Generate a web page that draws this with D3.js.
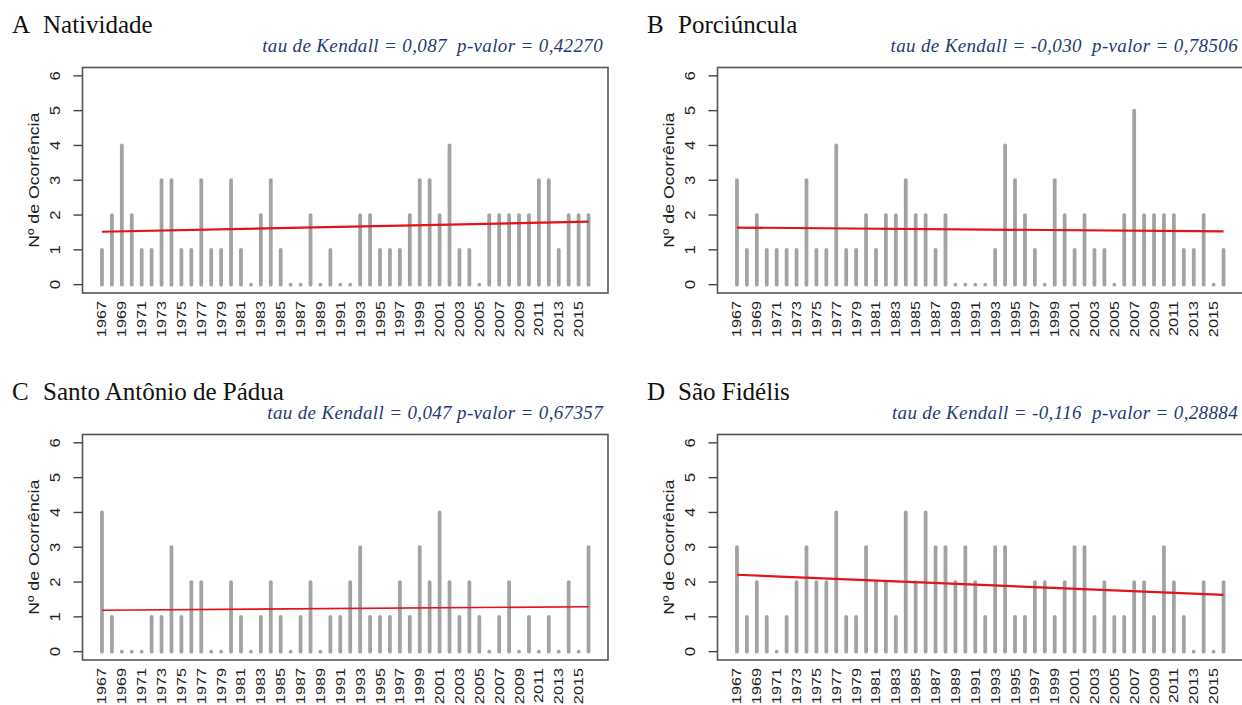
<!DOCTYPE html>
<html>
<head>
<meta charset="utf-8">
<script src="https://cdn.jsdelivr.net/npm/d3@7"></script>
<style>
  body { margin: 0; background: #fff; }
  svg { display: block; }
  text { white-space: pre; }
</style>
</head>
<body>
<svg id="chart" width="1242" height="705"></svg>
<script>
// anos 1967-2016
const years = d3.range(1967, 2017);
const yTicks = [0, 1, 2, 3, 4, 5, 6];
const xTickYears = d3.range(1967, 2016, 2);

const letters = ["A", "B", "C", "D"];
const stations = ["Natividade", "Porciúncula", "Santo Antônio de Pádua", "São Fidélis"];
const tauLabels = [
  "tau de Kendall = 0,087  p-valor = 0,42270",
  "tau de Kendall = -0,030  p-valor = 0,78506",
  "tau de Kendall = 0,047 p-valor = 0,67357",
  "tau de Kendall = -0,116  p-valor = 0,28884"
];

const natividade = [1,2,4,2,1,1,3,3,1,1,3,1,1,3,1,0,2,3,1,0,0,2,0,1,0,0,2,2,1,1,1,2,3,3,2,4,1,1,0,2,2,2,2,2,3,3,1,2,2,2];
const porciuncula = [3,1,2,1,1,1,1,3,1,1,4,1,1,2,1,2,2,3,2,2,1,2,0,0,0,0,1,4,3,2,1,0,3,2,1,2,1,1,0,2,5,2,2,2,2,1,1,2,0,1];
const santoAntonio = [4,1,0,0,0,1,1,3,1,2,2,0,0,2,1,0,1,2,1,0,1,2,0,1,1,2,3,1,1,1,2,1,3,2,4,2,1,2,1,0,1,2,0,1,0,1,0,2,0,3];
const saoFidelis = [3,1,2,1,0,1,2,3,2,2,4,1,1,3,2,2,1,4,2,4,3,3,2,3,2,1,3,3,1,1,2,2,1,2,3,3,1,2,1,1,2,2,1,3,2,1,0,2,0,2];
const seriesList = [natividade, porciuncula, santoAntonio, saoFidelis];

// linha de tendencia: valor em 1967 e em 2016
const trendStart = [1.52, 1.64, 1.19, 2.21];
const trendEnd = [1.81, 1.53, 1.29, 1.63];

const svg = d3.select("#chart");
const panelOffsets = [[0, 0], [635, 0], [0, 367], [635, 367]];
const box = { left: 82.5, right: 608, top: 67.5, bottom: 293 };

// margens tipo R (4%)
const x = d3.scaleLinear().domain([1967 - 1.96, 2016 + 1.96]).range([box.left, box.right]);
const y = d3.scaleLinear().domain([-0.24, 6.24]).range([box.bottom, box.top]);

function drawPanel(i) {
  const g = svg.append("g")
    .attr("transform", `translate(${panelOffsets[i][0]},${panelOffsets[i][1]})`);
  const data = years.map((yr, k) => ({ year: yr, value: seriesList[i][k] }));

  g.append("text")
    .attr("x", 12).attr("y", 33)
    .attr("font-family", "Liberation Serif, Times New Roman, serif")
    .attr("font-size", 25).attr("fill", "#111")
    .text(letters[i]);
  g.append("text")
    .attr("x", 43).attr("y", 33)
    .attr("font-family", "Liberation Serif, Times New Roman, serif")
    .attr("font-size", 25).attr("fill", "#111")
    .text(stations[i]);

  g.append("text")
    .attr("x", 603).attr("y", 52)
    .attr("text-anchor", "end")
    .attr("font-family", "Liberation Serif, Times New Roman, serif")
    .attr("font-style", "italic")
    .attr("font-size", 19)
    .attr("letter-spacing", 0.35)
    .attr("fill", "#1f3b73")
    .text(tauLabels[i]);

  // barras
  g.selectAll("line.bar")
    .data(data)
    .join("line")
    .attr("class", "bar")
    .attr("x1", d => x(d.year)).attr("x2", d => x(d.year))
    .attr("y1", y(0)).attr("y2", d => y(d.value))
    .attr("stroke", "#a3a3a3")
    .attr("stroke-width", 3.8)
    .attr("stroke-linecap", "round");

  // tendencia
  g.append("line")
    .attr("x1", x(1967)).attr("x2", x(2016))
    .attr("y1", y(trendStart[i])).attr("y2", y(trendEnd[i]))
    .attr("stroke", "#e3121b")
    .attr("stroke-width", i === 2 ? 1.6 : 2.2);

  g.append("rect")
    .attr("x", box.left).attr("y", box.top)
    .attr("width", box.right - box.left).attr("height", box.bottom - box.top)
    .attr("fill", "none").attr("stroke", "#555").attr("stroke-width", 1.6);

  // eixo y
  const yAxis = g.append("g");
  yAxis.selectAll("line")
    .data(yTicks)
    .join("line")
    .attr("x1", box.left - 9).attr("x2", box.left)
    .attr("y1", d => y(d)).attr("y2", d => y(d))
    .attr("stroke", "#444").attr("stroke-width", 1.4);
  yAxis.selectAll("text")
    .data(yTicks)
    .join("text")
    .attr("transform", d => `translate(${box.left - 23},${y(d)}) rotate(-90) scale(1.2,1)`)
    .attr("text-anchor", "middle")
    .attr("font-family", "Liberation Sans, Arial, sans-serif")
    .attr("font-size", 14).attr("fill", "#222")
    .text(d => d);

  g.append("text")
    .attr("transform", `translate(39,${(box.top + box.bottom) / 2}) rotate(-90) scale(1.22,1)`)
    .attr("text-anchor", "middle")
    .attr("font-family", "Liberation Sans, Arial, sans-serif")
    .attr("font-size", 14.5).attr("fill", "#222")
    .text("Nº de Ocorrência");

  // eixo x
  g.append("g").selectAll("text")
    .data(xTickYears)
    .join("text")
    .attr("transform", d => `translate(${x(d) + 4.5},${box.bottom + 8}) rotate(-90) scale(1.25,1)`)
    .attr("text-anchor", "end")
    .attr("font-family", "Liberation Sans, Arial, sans-serif")
    .attr("font-size", 13).attr("fill", "#222")
    .text(d => d);
}

for (let i = 0; i < 4; i++) drawPanel(i);
</script>
</body>
</html>
